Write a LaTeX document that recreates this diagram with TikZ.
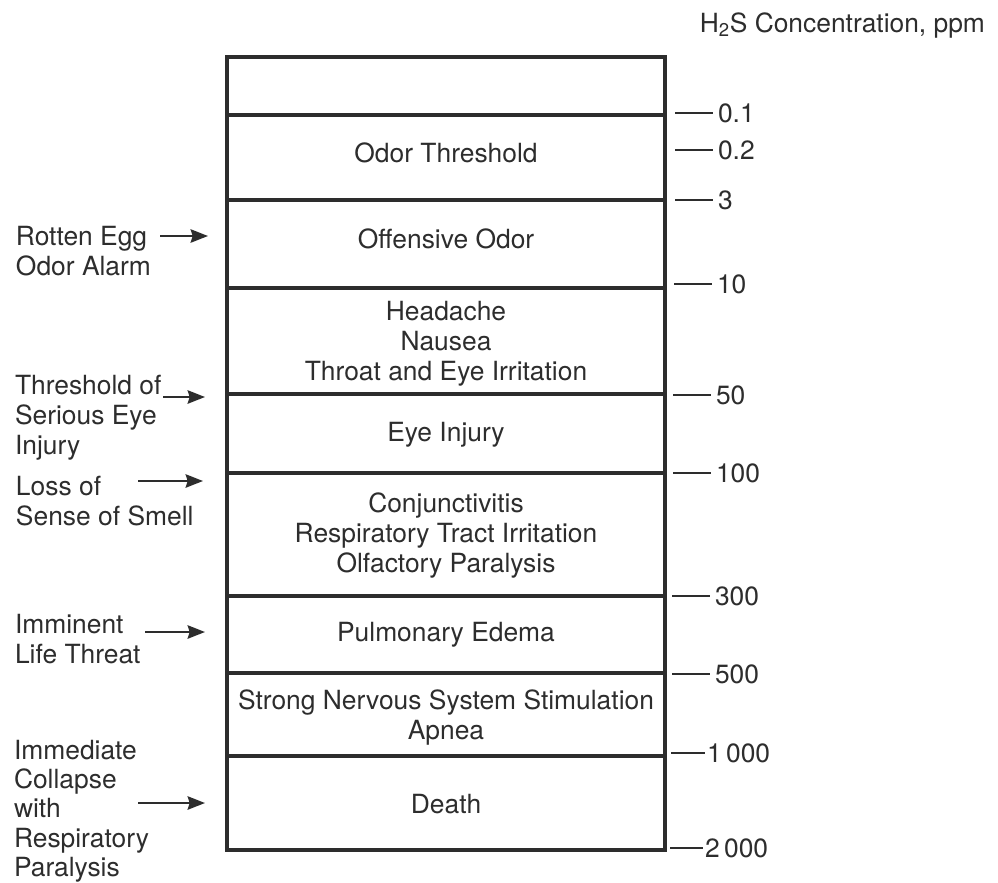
\documentclass[tikz,border=0pt]{standalone}
\usepackage{fontspec}
\setmainfont{TeX Gyre Heros}
\usetikzlibrary{arrows.meta}

\definecolor{ink}{RGB}{45,45,45}

\tikzset{every picture/.style={line width=1.5pt}}
\tikzset{
  boxtext/.style={anchor=center,inner sep=0.75pt,align=center,text=ink,font=\fontsize{19.8}{22.5}\selectfont},
  sidetext/.style={anchor=north west,inner sep=0.75pt,align=left,text=ink,font=\fontsize{19.8}{22.5}\selectfont},
  conc/.style={anchor=west,inner sep=3pt,text=ink,font=\fontsize{19.8}{22.5}\selectfont},
  ppmtick/.style={draw=ink,line width=1.9pt},
  bandline/.style={draw=ink,line width=2.4pt},
  pointer/.style={draw=ink,line width=1.8pt,-{Stealth[length=13pt,width=10pt,inset=1.5pt]}},
}

\begin{document}
\begin{tikzpicture}[x=0.75pt,y=0.75pt,yscale=-1,xscale=1]
\useasboundingbox (0,0) rectangle (998,882);

%Outer box
\draw [bandline] (227,57) rectangle (665,850);
%Band separators
\draw [bandline] (227,115) -- (665,115);
\draw [bandline] (227,200) -- (665,200);
\draw [bandline] (227,288) -- (665,288);
\draw [bandline] (227,394) -- (665,394);
\draw [bandline] (227,473) -- (665,473);
\draw [bandline] (227,596) -- (665,596);
\draw [bandline] (227,673) -- (665,673);
\draw [bandline] (227,756) -- (665,756);

% Text Node
\node [boxtext] (odor) at (446,153) {Odor Threshold};
% Text Node
\node [boxtext] (offensive) at (446,239) {Offensive Odor};
% Text Node
\node [boxtext] (headache) at (446,344) {Headache\\Nausea\\Throat and Eye Irritation};
% Text Node
\node [boxtext] (eyeinjury) at (446,435) {Eye Injury};
% Text Node
\node [boxtext] (conjunct) at (446,536) {Conjunctivitis\\Respiratory Tract Irritation\\Olfactory Paralysis};
% Text Node
\node [boxtext] (edema) at (446,635) {Pulmonary Edema};
% Text Node
\node [boxtext] (apnea) at (446,718) {Strong Nervous System Stimulation\\Apnea};
% Text Node
\node [boxtext] (death) at (446,804) {Death};

%Header
\node [conc, anchor=base east] (header) at (990,32) {H\textsubscript{2}S Concentration, ppm};

%Concentration ticks
\coordinate (t1) at (675,113);
\node [conc] (c1) at (713,113) {0.1};
\draw [ppmtick] (t1) -- (c1.west);
\coordinate (t2) at (675,150);
\node [conc] (c2) at (713,150) {0.2};
\draw [ppmtick] (t2) -- (c2.west);
\coordinate (t3) at (675,200);
\node [conc] (c3) at (713,200) {3};
\draw [ppmtick] (t3) -- (c3.west);
\coordinate (t4) at (674,284);
\node [conc] (c4) at (712,284) {10};
\draw [ppmtick] (t4) -- (c4.west);
\coordinate (t5) at (673,395);
\node [conc] (c5) at (711,395) {50};
\draw [ppmtick] (t5) -- (c5.west);
\coordinate (t6) at (673,473);
\node [conc] (c6) at (711,473) {100};
\draw [ppmtick] (t6) -- (c6.west);
\coordinate (t7) at (672,596);
\node [conc] (c7) at (710,596) {300};
\draw [ppmtick] (t7) -- (c7.west);
\coordinate (t8) at (672,674);
\node [conc] (c8) at (710,674) {500};
\draw [ppmtick] (t8) -- (c8.west);
\coordinate (t9) at (671,753);
\node [conc, inner sep=0.75pt] (c9) at (705,753) {1\,000};
\draw [ppmtick] (t9) -- (c9.west);
\coordinate (t10) at (670,848);
\node [conc, inner sep=0.75pt] (c10) at (703,848) {2\,000};
\draw [ppmtick] (t10) -- (c10.west);

%Side labels
\node [sidetext] (rotten) at (14,224) {Rotten Egg\\Odor Alarm};
\node [sidetext] (serious) at (13,373) {Threshold of\\Serious Eye\\Injury};
\node [sidetext] (smell) at (14,474) {Loss of\\Sense of Smell};
\node [sidetext] (imminent) at (13,612) {Imminent\\Life Threat};
\node [sidetext, font=\fontsize{19.8}{22}\selectfont] (collapse) at (12,738) {Immediate\\Collapse\\with\\Respiratory\\Paralysis};

%Arrows
\coordinate (a1) at (160,236);
\coordinate (b1) at (208,236);
\draw [pointer] (a1) -- (b1);
\coordinate (a2) at (163,397);
\coordinate (b2) at (205,397);
\draw [pointer] (a2) -- (b2);
\coordinate (a3) at (138,481);
\coordinate (b3) at (203,481);
\draw [pointer] (a3) -- (b3);
\coordinate (a4) at (145,632);
\coordinate (b4) at (205,632);
\draw [pointer] (a4) -- (b4);
\coordinate (a5) at (138,803);
\coordinate (b5) at (205,803);
\draw [pointer] (a5) -- (b5);

\end{tikzpicture}
\end{document}
